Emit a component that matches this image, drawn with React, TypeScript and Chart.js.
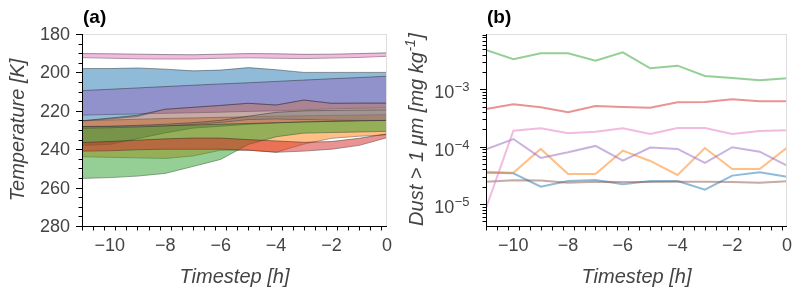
import React, { useEffect, useRef } from 'react';
import { Chart, registerables } from 'chart.js';

Chart.register(...registerables);

const FONT = '"Liberation Sans", Arial, Helvetica, sans-serif';
const TEXT = '#444444';

// ---------- shared axis data ----------
const timesteps = [-11, -10, -9, -8, -7, -6, -5, -4, -3, -2, -1, 0];
const xTickValues = [-10, -8, -6, -4, -2, 0];
const tempTickValues = [180, 200, 220, 240, 260, 280];
const dustTickExponents = [-5, -4, -3];

// ---------- panel (a): temperature ranges [K] (lo = colder edge, hi = warmer edge) ----------
const blueLo = [198, 198, 197.7, 198.3, 199.2, 198.8, 197.5, 198.6, 200, 200, 200, 200];
const blueHi = [225.2, 224.3, 223, 219.2, 218.2, 217.2, 216.1, 217, 214.4, 216.1, 216, 216];
const orangeLo = [225.2, 224.8, 224.4, 224, 223.7, 223.4, 223.1, 222.8, 222.6, 222.4, 222.2, 222];
const orangeHi = [243.9, 244.2, 244.5, 244.8, 243.5, 240.5, 240.5, 241.5, 237.3, 234.3, 233.2, 232.5];
const purpleLo = [209.5, 208.8, 208.1, 207.4, 206.7, 206, 205.4, 204.7, 204, 203.3, 202.7, 202];
const purpleHi = [222.2, 221.9, 221.6, 221.3, 221, 220.7, 220.3, 220, 219.5, 219, 218.7, 218.5];
const brownLo = [225.2, 223.8, 222.3, 219.2, 218.2, 217.2, 216.1, 217, 214.4, 216.1, 216, 216];
const brownHi = [238, 237.5, 234.5, 231.5, 229, 228, 227, 226.3, 225.8, 225.5, 225.2, 225];
const greenLo = [228.3, 228.2, 228, 227.8, 227.4, 227, 226.6, 226.2, 225.8, 225.5, 225.2, 225];
const greenHi = [255.2, 254.8, 254, 252.6, 249, 245.3, 237.5, 233.5, 231.6, 231.3, 231, 230.7];
const redLo = [236.5, 236, 235.3, 234.6, 234.2, 234.2, 235, 235.7, 236.4, 236, 234.3, 232];
const redHi = [241, 240.8, 240.3, 240, 240, 240, 240.5, 241.6, 241, 240, 238, 234];
const grayLo = [228.2, 228, 227.6, 227, 226.2, 225, 222.8, 220.8, 220, 219.8, 219.6, 219.5];
const grayHi = [229, 228.8, 228.4, 227.8, 227, 226, 224.5, 224.2, 224.5, 224.8, 225, 225];
const pinkLo = [190.2, 190.3, 190.5, 190.7, 190.8, 190.5, 190.2, 190.3, 190.6, 190.5, 190.2, 189.8];
const pinkHi = [192.3, 192.6, 192.9, 193, 193, 192.6, 192.4, 192.6, 192.8, 192.5, 192.2, 191.6];

// ---------- panel (b): dust > 1 um [mg/kg] ----------
const dustBlue = [3.52e-5, 3.44e-5, 2.01e-5, 2.52e-5, 2.63e-5, 2.21e-5, 2.52e-5, 2.52e-5, 1.78e-5, 3.13e-5, 3.58e-5, 3.0e-5];
const dustOrange = [3.66e-5, 3.52e-5, 9.12e-5, 3.34e-5, 3.34e-5, 8.51e-5, 5.63e-5, 3.21e-5, 9.48e-5, 4.09e-5, 4.09e-5, 9.62e-5];
const dustGreen = [4.84e-3, 3.33e-3, 4.24e-3, 4.24e-3, 3.15e-3, 4.42e-3, 2.32e-3, 2.58e-3, 1.71e-3, 1.57e-3, 1.44e-3, 1.56e-3];
const dustRed = [4.54e-4, 5.48e-4, 4.86e-4, 3.97e-4, 5.12e-4, 4.92e-4, 4.78e-4, 5.94e-4, 6.01e-4, 6.7e-4, 6.18e-4, 6.18e-4];
const dustPurple = [9.02e-5, 1.36e-4, 6.36e-5, 7.98e-5, 1.03e-4, 5.7e-5, 9.62e-5, 9.12e-5, 5.2e-5, 9.78e-5, 8.18e-5, 4.67e-5];
const dustBrown = [2.45e-5, 2.6e-5, 2.56e-5, 2.36e-5, 2.45e-5, 2.43e-5, 2.43e-5, 2.45e-5, 2.45e-5, 2.43e-5, 2.36e-5, 2.49e-5];
const dustPink = [8.45e-6, 1.9e-4, 2.09e-4, 1.71e-4, 1.82e-4, 2.09e-4, 1.66e-4, 2.12e-4, 2.12e-4, 1.66e-4, 1.88e-4, 1.93e-4];

const TAB: Record<string, string> = {
  blue: '31,119,180',
  orange: '255,127,14',
  green: '44,160,44',
  red: '214,39,40',
  purple: '148,103,189',
  brown: '140,86,75',
  pink: '227,119,194',
  gray: '127,127,127',
};

const EDGE = 'rgba(30,30,30,0.55)';

// drawn bottom -> top
const bands = [
  { color: 'blue', lo: blueLo, hi: blueHi },
  { color: 'orange', lo: orangeLo, hi: orangeHi },
  { color: 'purple', lo: purpleLo, hi: purpleHi },
  { color: 'brown', lo: brownLo, hi: brownHi },
  { color: 'green', lo: greenLo, hi: greenHi },
  { color: 'red', lo: redLo, hi: redHi },
  { color: 'gray', lo: grayLo, hi: grayHi },
  { color: 'pink', lo: pinkLo, hi: pinkHi },
];

const dustSeries = [
  { color: 'blue', data: dustBlue },
  { color: 'orange', data: dustOrange },
  { color: 'green', data: dustGreen },
  { color: 'red', data: dustRed },
  { color: 'purple', data: dustPurple },
  { color: 'brown', data: dustBrown },
  { color: 'pink', data: dustPink },
];

const toXY = (arr: number[]) => timesteps.map((t, i) => ({ x: t, y: arr[i] }));
const fmtX = (v: number) => (v < 0 ? '\u2212' + Math.abs(v) : String(v));

function line(ctx: CanvasRenderingContext2D, x1: number, y1: number, x2: number, y2: number) {
  ctx.beginPath();
  ctx.moveTo(x1, y1);
  ctx.lineTo(x2, y2);
  ctx.stroke();
}

function drawFrameAndXAxis(chart: any, label: string, panel: string, labelX: number) {
  const ctx: CanvasRenderingContext2D = chart.ctx;
  const a = chart.chartArea;
  const xs = chart.scales.x;
  ctx.save();
  ctx.strokeStyle = '#dddddd';
  ctx.lineWidth = 1;
  line(ctx, a.left, a.top + 0.5, a.right, a.top + 0.5);
  line(ctx, a.right - 0.5, a.top, a.right - 0.5, a.bottom);
  ctx.strokeStyle = '#000000';
  line(ctx, a.left + 0.5, a.top, a.left + 0.5, a.bottom + 1);
  line(ctx, a.left, a.bottom + 0.5, a.right, a.bottom + 0.5);
  for (let k = 0; k <= 27; k++) {
    const v = -11 + k * 0.4;
    if (v > 0.001) break;
    const px = Math.round(xs.getPixelForValue(v)) + 0.5;
    const isMajor = Math.abs(v / 2 - Math.round(v / 2)) < 1e-6;
    line(ctx, px, a.bottom + 1, px, a.bottom + (isMajor ? 7 : 4.5));
  }
  ctx.fillStyle = TEXT;
  ctx.font = `18px ${FONT}`;
  ctx.textAlign = 'center';
  ctx.textBaseline = 'alphabetic';
  for (const v of xTickValues) {
    ctx.fillText(fmtX(v), xs.getPixelForValue(v), a.bottom + 25);
  }
  ctx.font = `italic 20px ${FONT}`;
  ctx.fillText(label, (a.left + a.right) / 2, a.bottom + 57);
  ctx.fillStyle = '#000000';
  ctx.font = `bold 19px ${FONT}`;
  ctx.textAlign = 'left';
  ctx.fillText(panel, labelX, 23);
  ctx.restore();
}

const decorA = {
  id: 'decorA',
  afterDraw(chart: any) {
    const ctx: CanvasRenderingContext2D = chart.ctx;
    const a = chart.chartArea;
    const ys = chart.scales.y;
    drawFrameAndXAxis(chart, 'Timestep [h]', '(a)', 83);
    ctx.save();
    ctx.strokeStyle = '#000';
    ctx.lineWidth = 1;
    for (let v = 180; v <= 280; v += 5) {
      const py = Math.round(ys.getPixelForValue(v)) + 0.5;
      const isMajor = v % 20 === 0;
      line(ctx, a.left, py, a.left - (isMajor ? 6 : 3.5), py);
    }
    ctx.fillStyle = TEXT;
    ctx.font = `18px ${FONT}`;
    ctx.textAlign = 'right';
    ctx.textBaseline = 'middle';
    for (const v of tempTickValues) {
      ctx.fillText(String(v), a.left - 12, ys.getPixelForValue(v) + 1);
    }
    ctx.translate(18, (a.top + a.bottom) / 2);
    ctx.rotate(-Math.PI / 2);
    ctx.textAlign = 'center';
    ctx.textBaseline = 'middle';
    ctx.font = `italic 20px ${FONT}`;
    ctx.fillText('Temperature [K]', 0, 0);
    ctx.restore();
  },
};

const decorB = {
  id: 'decorB',
  afterDraw(chart: any) {
    const ctx: CanvasRenderingContext2D = chart.ctx;
    const a = chart.chartArea;
    const ys = chart.scales.y;
    drawFrameAndXAxis(chart, 'Timestep [h]', '(b)', 87);
    ctx.save();
    ctx.strokeStyle = '#000';
    ctx.lineWidth = 1;
    const yMin = ys.min;
    const yMax = ys.max;
    for (let e = -7; e <= -2; e++) {
      for (let m = 1; m <= 9; m++) {
        const v = m * Math.pow(10, e);
        if (v < yMin || v > yMax) continue;
        const py = Math.round(ys.getPixelForValue(v)) + 0.5;
        line(ctx, a.left, py, a.left - (m === 1 ? 6 : 3.5), py);
      }
    }
    ctx.fillStyle = TEXT;
    ctx.textBaseline = 'alphabetic';
    ctx.textAlign = 'left';
    for (const e of dustTickExponents) {
      const py = ys.getPixelForValue(Math.pow(10, e));
      const base = '10';
      const sup = '\u2212' + Math.abs(e);
      ctx.font = `18px ${FONT}`;
      const wb = ctx.measureText(base).width;
      ctx.font = `13px ${FONT}`;
      const ws = ctx.measureText(sup).width;
      const right = a.left - 17;
      const x0 = right - wb - ws;
      ctx.font = `18px ${FONT}`;
      ctx.fillText(base, x0, py + 9);
      ctx.font = `13px ${FONT}`;
      ctx.fillText(sup, x0 + wb + 0.5, py + 2);
    }
    ctx.translate(16, (a.top + a.bottom) / 2);
    ctx.rotate(-Math.PI / 2);
    const t1 = 'Dust > 1 \u03bcm [mg kg';
    const t2 = '-1';
    const t3 = ']';
    ctx.font = `italic 20px ${FONT}`;
    const w1 = ctx.measureText(t1).width;
    const w3 = ctx.measureText(t3).width;
    ctx.font = `italic 14px ${FONT}`;
    const w2 = ctx.measureText(t2).width;
    let x = -(w1 + w2 + w3) / 2;
    ctx.font = `italic 20px ${FONT}`;
    ctx.fillText(t1, x, 7);
    x += w1;
    ctx.font = `italic 14px ${FONT}`;
    ctx.fillText(t2, x + 0.5, -1);
    x += w2 + 1;
    ctx.font = `italic 20px ${FONT}`;
    ctx.fillText(t3, x, 7);
    ctx.restore();
  },
};

const hiddenAxis = {
  grid: { display: false },
  border: { display: false },
  ticks: { display: false },
};

function configA(): any {
  const datasets: any[] = [];
  bands.forEach((b, k) => {
    const c = TAB[b.color];
    datasets.push({
      label: b.color + ' min',
      data: toXY(b.lo),
      fill: '+1',
      backgroundColor: `rgba(${c},0.5)`,
      borderColor: EDGE,
      borderWidth: 0.8,
      pointRadius: 0,
      tension: 0,
      order: 100 - k,
    });
    datasets.push({
      label: b.color + ' max',
      data: toXY(b.hi),
      fill: false,
      borderColor: EDGE,
      borderWidth: 0.8,
      pointRadius: 0,
      tension: 0,
      order: 100 - k,
    });
  });
  return {
    type: 'line',
    data: { datasets },
    options: {
      animation: false,
      responsive: false,
      devicePixelRatio: 1,
      events: [],
      layout: { padding: { top: 34, right: 13, left: 0, bottom: 0 } },
      plugins: { legend: { display: false }, tooltip: { enabled: false } },
      scales: {
        x: {
          type: 'linear', min: -11, max: 0, ...hiddenAxis,
          afterFit: (s: any) => { s.height = 71; },
        },
        y: {
          type: 'linear', reverse: true, min: 180, max: 280, ...hiddenAxis,
          afterFit: (s: any) => { s.width = 82; },
        },
      },
    },
    plugins: [decorA],
  };
}

function configB(): any {
  const datasets = dustSeries.map((s, i) => ({
    label: s.color,
    data: toXY(s.data),
    fill: false,
    borderColor: `rgba(${TAB[s.color]},0.5)`,
    borderWidth: 2,
    pointRadius: 0,
    tension: 0,
    order: 20 - i,
  }));
  return {
    type: 'line',
    data: { datasets },
    options: {
      animation: false,
      responsive: false,
      devicePixelRatio: 1,
      events: [],
      layout: { padding: { top: 34, right: 14, left: 0, bottom: 0 } },
      plugins: { legend: { display: false }, tooltip: { enabled: false } },
      scales: {
        x: {
          type: 'linear', min: -11, max: 0, ...hiddenAxis,
          afterFit: (s: any) => { s.height = 71; },
        },
        y: {
          type: 'logarithmic', min: 4.14e-6, max: 9.2e-3, ...hiddenAxis,
          afterFit: (s: any) => { s.width = 86; },
        },
      },
    },
    plugins: [decorB],
  };
}

export default function App() {
  const refA = useRef<HTMLCanvasElement>(null);
  const refB = useRef<HTMLCanvasElement>(null);
  useEffect(() => {
    const ca = new Chart(refA.current as HTMLCanvasElement, configA());
    const cb = new Chart(refB.current as HTMLCanvasElement, configB());
    return () => {
      ca.destroy();
      cb.destroy();
    };
  }, []);
  return (
    <div style={{ position: 'absolute', left: 0, top: 0, width: 801, height: 297, background: '#ffffff' }}>
      <canvas ref={refA} width={400} height={297} style={{ position: 'absolute', left: 0, top: 0, width: 400, height: 297 }} />
      <canvas ref={refB} width={401} height={297} style={{ position: 'absolute', left: 400, top: 0, width: 401, height: 297 }} />
    </div>
  );
}
